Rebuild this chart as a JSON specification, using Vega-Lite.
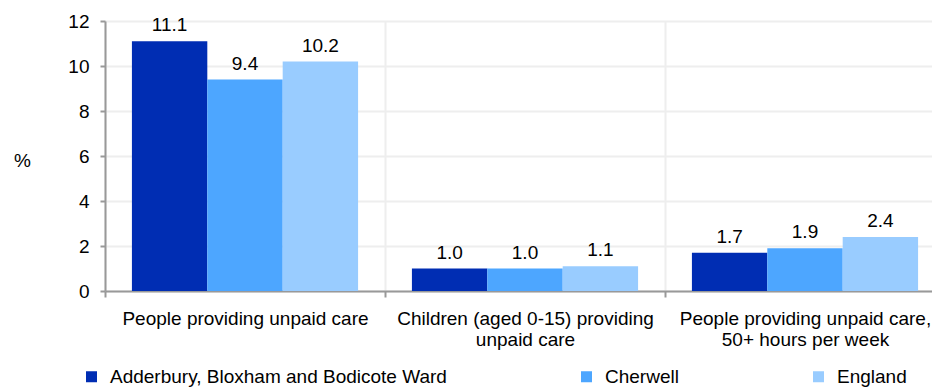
{
  "$schema": "https://vega.github.io/schema/vega-lite/v6.json",
  "width": 827,
  "height": 270,
  "autosize": {"type": "none"},
  "padding": {"left": 105, "top": 21, "right": 0, "bottom": 96},
  "config": {
    "view": {"stroke": null},
    "font": "Liberation Sans",
    "text": {"font": "Liberation Sans"}
  },
  "data": {
    "values": [
      {"category": "People providing unpaid care", "area": "Adderbury, Bloxham and Bodicote Ward", "value": 11.1},
      {"category": "People providing unpaid care", "area": "Cherwell", "value": 9.4},
      {"category": "People providing unpaid care", "area": "England", "value": 10.2},
      {"category": "Children (aged 0-15) providing unpaid care", "area": "Adderbury, Bloxham and Bodicote Ward", "value": 1.0},
      {"category": "Children (aged 0-15) providing unpaid care", "area": "Cherwell", "value": 1.0},
      {"category": "Children (aged 0-15) providing unpaid care", "area": "England", "value": 1.1},
      {"category": "People providing unpaid care, 50+ hours per week", "area": "Adderbury, Bloxham and Bodicote Ward", "value": 1.7},
      {"category": "People providing unpaid care, 50+ hours per week", "area": "Cherwell", "value": 1.9},
      {"category": "People providing unpaid care, 50+ hours per week", "area": "England", "value": 2.4}
    ]
  },
  "encoding": {
    "x": {
      "field": "category",
      "type": "nominal",
      "sort": null,
      "scale": {"range": [0, 840], "paddingInner": 0, "paddingOuter": 0},
      "axis": {
        "title": null,
        "labelAngle": 0,
        "tickBand": "extent",
        "grid": true,
        "gridColor": "#eeeeee",
        "gridWidth": 2,
        "domainColor": "#999999",
        "domainWidth": 2,
        "tickColor": "#999999",
        "tickWidth": 2,
        "tickSize": 6,
        "labelPadding": 12,
        "labelFontSize": 19,
        "labelColor": "#000000",
        "labelLimit": 400,
        "labelLineHeight": 21,
        "labelBaseline": "top",
        "labelExpr": "datum.label == 'Children (aged 0-15) providing unpaid care' ? ['Children (aged 0-15) providing', 'unpaid care'] : datum.label == 'People providing unpaid care, 50+ hours per week' ? ['People providing unpaid care,', '50+ hours per week'] : datum.label"
      }
    },
    "xOffset": {
      "field": "area",
      "type": "nominal",
      "sort": null,
      "scale": {"paddingInner": 0, "paddingOuter": 0.357}
    },
    "y": {
      "field": "value",
      "type": "quantitative",
      "scale": {"domain": [0, 12], "nice": false},
      "axis": {
        "title": "%",
        "titleAngle": 0,
        "titleFontSize": 19,
        "titleFontWeight": "normal",
        "titleColor": "#000000",
        "titleX": -83,
        "titleY": 139,
        "titleAlign": "center",
        "titleBaseline": "middle",
        "values": [0, 2, 4, 6, 8, 10, 12],
        "grid": true,
        "gridColor": "#eeeeee",
        "gridWidth": 2,
        "domainColor": "#999999",
        "domainWidth": 2,
        "tickColor": "#999999",
        "tickWidth": 2,
        "tickSize": 5,
        "labelPadding": 11,
        "labelFontSize": 19,
        "labelColor": "#000000"
      }
    }
  },
  "layer": [
    {
      "mark": {"type": "bar"},
      "encoding": {
        "color": {
          "field": "area",
          "type": "nominal",
          "sort": null,
          "scale": {
            "domain": ["Adderbury, Bloxham and Bodicote Ward", "Cherwell", "England"],
            "range": ["#002db3", "#4da6ff", "#99ccff"]
          },
          "legend": {
            "title": null,
            "orient": "none",
            "legendX": -23,
            "legendY": 346,
            "direction": "horizontal",
            "columns": 3,
            "columnPadding": 130,
            "symbolType": "square",
            "symbolSize": 121,
            "symbolStrokeWidth": 0,
            "symbolOpacity": 1,
            "labelFontSize": 19,
            "labelColor": "#000000",
            "labelOffset": 9,
            "labelLimit": 500,
            "padding": 0
          }
        }
      }
    },
    {
      "mark": {"type": "text", "baseline": "bottom", "dy": -6, "fontSize": 19, "color": "#000000"},
      "encoding": {
        "text": {"field": "value", "type": "quantitative", "format": ".1f"}
      }
    }
  ]
}
